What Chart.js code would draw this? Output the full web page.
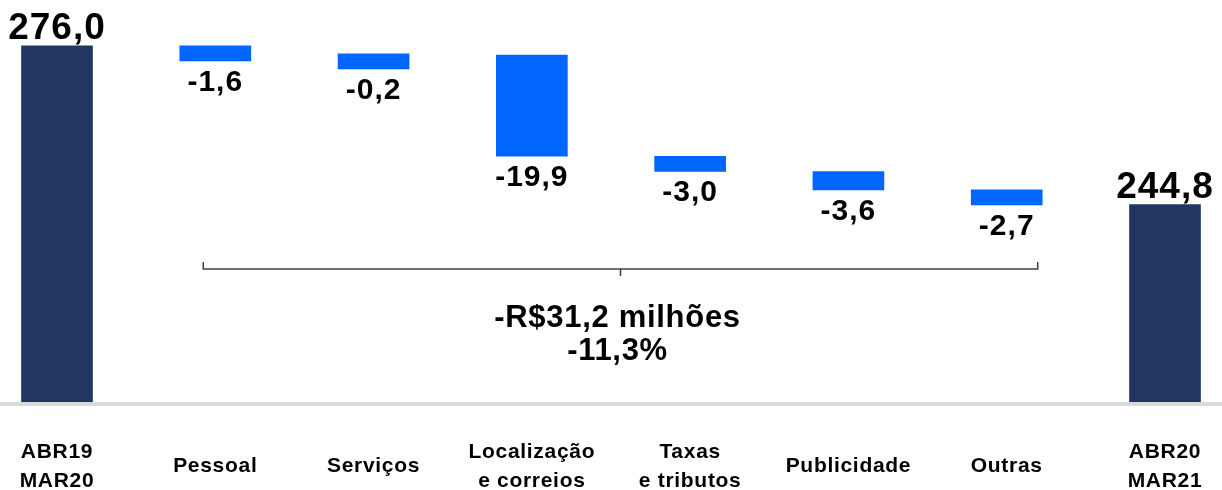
<!DOCTYPE html>
<html>
<head>
<meta charset="utf-8">
<script src="https://cdn.jsdelivr.net/npm/chart.js@4.4.1/dist/chart.umd.min.js"></script>
<style>
  html, body { margin: 0; padding: 0; background: #fff; }
  #wrap { width: 1222px; height: 490px; }
</style>
</head>
<body>
<div id="wrap"><canvas id="chart"></canvas></div>
<script>
var categories = [['ABR19', 'MAR20'], 'Pessoal', 'Serviços', ['Localização', 'e correios'], ['Taxas', 'e tributos'], 'Publicidade', 'Outras', ['ABR20', 'MAR21']];
var startTotal = 276.0;
var endTotal = 244.8;
var deltas = [-1.6, -0.2, -19.9, -3.0, -3.6, -2.7];

var NAVY = '#213761';
var BLUE = '#0066ff';
var FONT = "'Liberation Sans', Arial, sans-serif";

// hidden base under each step, visible bars for the two totals
var baseData = [startTotal];
var deltaData = [null];
var running = startTotal;
deltas.forEach(function(d){
  baseData.push(running);
  deltaData.push(d);
  running += d;
});
baseData.push(endTotal);
deltaData.push(null);

var baseColors = baseData.map(function(v, i){
  return (i === 0 || i === baseData.length - 1) ? NAVY : 'rgba(0,0,0,0)';
});

function fmt(v){ return v.toFixed(1).replace('.', ','); }

var noSideClip = {left: false, right: false, top: false, bottom: 0};

var extras = {
  id: 'extras',
  beforeDraw: function(chart){
    // the source font is a bit wider than Arial
    chart.ctx.letterSpacing = '0.7px';
  },
  beforeDatasetsDraw: function(chart){
    var ctx = chart.ctx;
    ctx.save();
    ctx.fillStyle = '#d9d9d9';
    ctx.fillRect(0, chart.chartArea.bottom, chart.width, 4);
    ctx.restore();
  },
  afterDatasetsDraw: function(chart){
    var ctx = chart.ctx;
    var totals = chart.getDatasetMeta(0).data;
    var steps = chart.getDatasetMeta(1).data;
    ctx.save();
    ctx.fillStyle = '#000';
    ctx.textAlign = 'center';
    ctx.textBaseline = 'alphabetic';
    ctx.letterSpacing = '1px';

    ctx.font = 'bold 37px ' + FONT;
    [0, totals.length - 1].forEach(function(i){
      ctx.fillText(fmt(baseData[i]), totals[i].x, totals[i].y - 7);
    });

    ctx.font = 'bold 30px ' + FONT;
    deltaData.forEach(function(v, i){
      if (v === null) return;
      var bar = steps[i];
      ctx.fillText(fmt(v), bar.x, Math.max(bar.y, bar.base) + 30);
    });

    // bracket under the steps
    var xs = chart.scales.x;
    var left = xs.getPixelForValue(1) - 12;
    var right = xs.getPixelForValue(deltas.length) + 31;
    var mid = (left + right) / 2;
    var y = chart.chartArea.top + 269;
    ctx.strokeStyle = '#404040';
    ctx.lineWidth = 1.5;
    ctx.beginPath();
    ctx.moveTo(left, y - 7);
    ctx.lineTo(left, y);
    ctx.lineTo(right, y);
    ctx.lineTo(right, y - 7);
    ctx.moveTo(mid, y);
    ctx.lineTo(mid, y + 7);
    ctx.stroke();

    var diff = endTotal - startTotal;
    ctx.letterSpacing = '0.7px';
    ctx.font = 'bold 31px ' + FONT;
    ctx.fillText('-R$' + fmt(Math.abs(diff)) + ' milhões', mid - 3, y + 58);
    ctx.fillText('-' + fmt(Math.abs(diff / startTotal * 100)) + '%', mid - 3, y + 91);
    ctx.restore();
  }
};

new Chart(document.getElementById('chart'), {
  type: 'bar',
  data: {
    labels: categories,
    datasets: [
      { data: baseData, backgroundColor: baseColors, barThickness: 71, clip: noSideClip },
      { data: deltaData, backgroundColor: BLUE, barThickness: 71, minBarLength: 15, clip: noSideClip }
    ]
  },
  options: {
    responsive: true,
    maintainAspectRatio: false,
    animation: false,
    layout: { padding: { left: 57, right: 57, top: 0, bottom: 0 } },
    plugins: { legend: { display: false }, tooltip: { enabled: false } },
    scales: {
      x: {
        stacked: true,
        offset: false,
        grid: { display: false },
        border: { display: false },
        ticks: {
          color: '#000',
          font: { family: FONT, size: 21, weight: 'bold', lineHeight: 1.4 },
          maxRotation: 0,
          autoSkip: false,
          padding: 42,
          crossAlign: 'center'
        },
        afterFit: function(s){
          s.height = 88;
          s.paddingLeft = 0;
          s.paddingRight = 0;
        }
      },
      y: { display: false, stacked: 'single', min: 206, max: 285 }
    }
  },
  plugins: [extras]
});
</script>
</body>
</html>
